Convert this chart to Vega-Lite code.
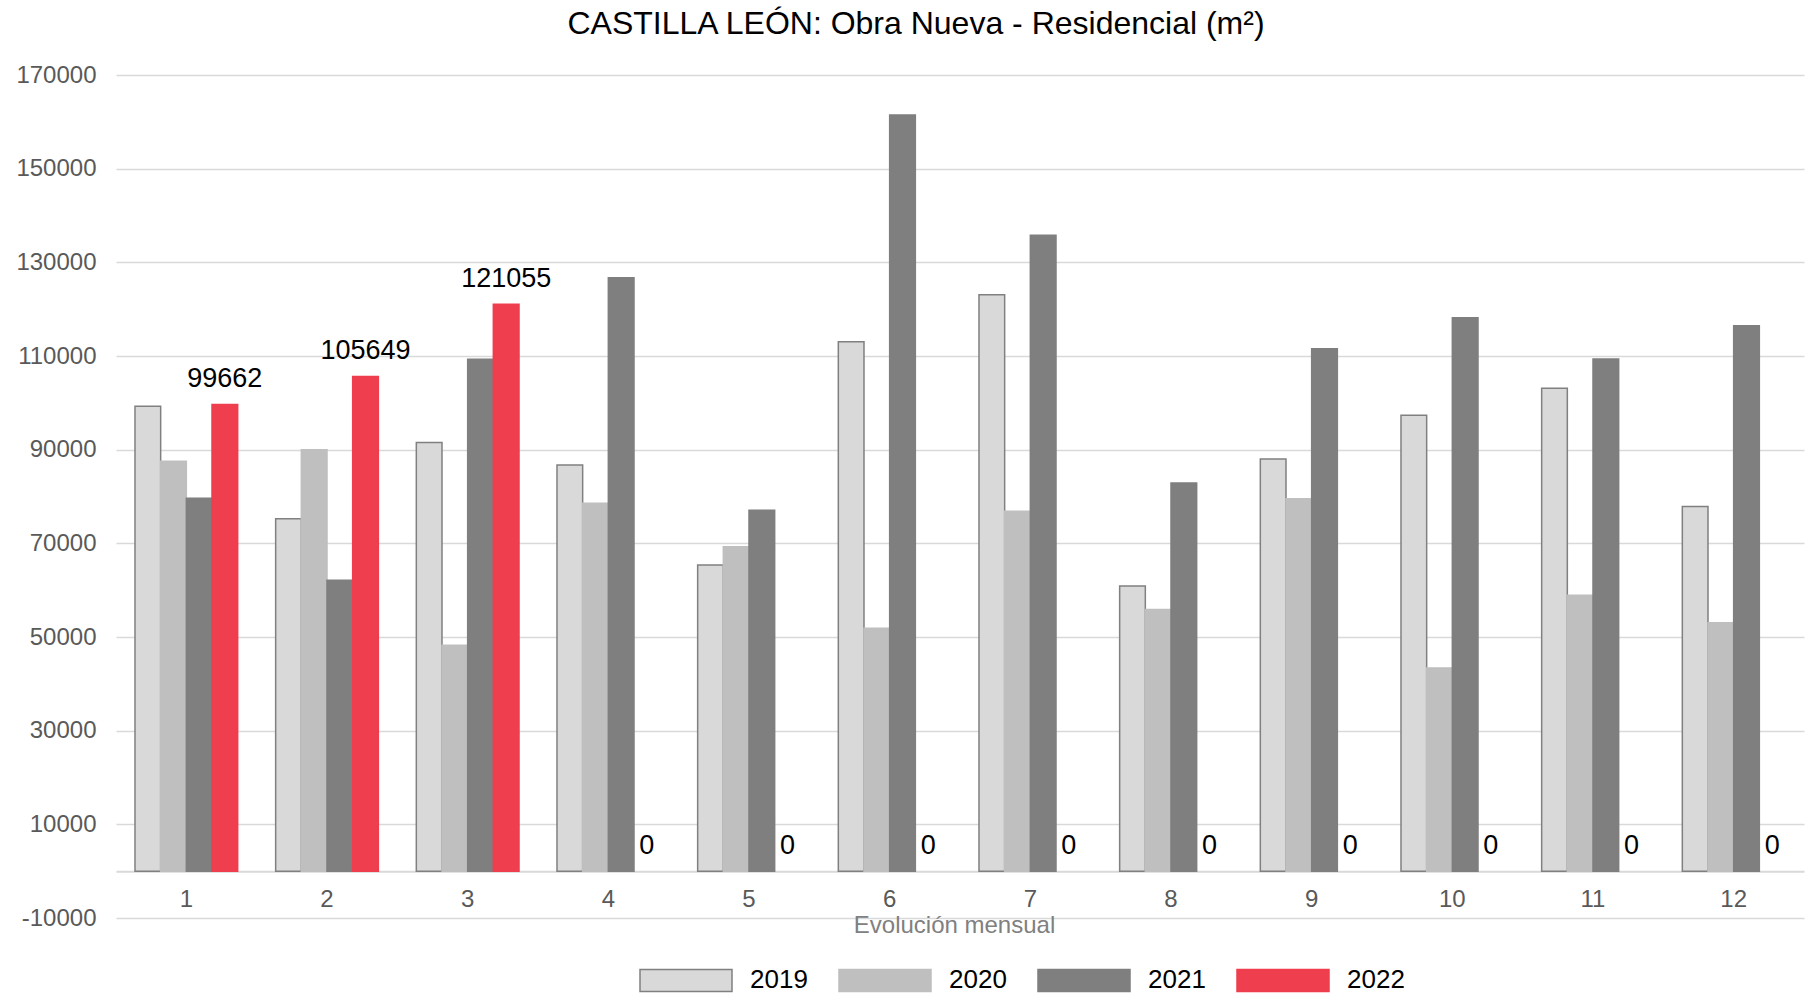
{
  "$schema": "https://vega.github.io/schema/vega-lite/v6.json",
  "width": 1688,
  "height": 843,
  "autosize": {"type": "none"},
  "padding": {"left": 116, "top": 75, "right": 12, "bottom": 77},
  "background": "white",
  "config": {"view": {"stroke": null}, "font": "Liberation Sans"},
  "title": {
    "text": "CASTILLA LEÓN: Obra Nueva - Residencial (m²)",
    "font": "Liberation Sans",
    "fontSize": 32,
    "fontWeight": "normal",
    "color": "#000000",
    "anchor": "middle",
    "frame": "group",
    "dx": -44,
    "offset": 22
  },
  "data": {
    "values": [
      {"mes": 1, "year": "2019", "value": 99270},
      {"mes": 1, "year": "2020", "value": 87520},
      {"mes": 1, "year": "2021", "value": 79620},
      {"mes": 1, "year": "2022", "value": 99662},
      {"mes": 2, "year": "2019", "value": 75230},
      {"mes": 2, "year": "2020", "value": 90000},
      {"mes": 2, "year": "2021", "value": 62110},
      {"mes": 2, "year": "2022", "value": 105649},
      {"mes": 3, "year": "2019", "value": 91510},
      {"mes": 3, "year": "2020", "value": 48230},
      {"mes": 3, "year": "2021", "value": 109290},
      {"mes": 3, "year": "2022", "value": 121055},
      {"mes": 4, "year": "2019", "value": 86700},
      {"mes": 4, "year": "2020", "value": 78540},
      {"mes": 4, "year": "2021", "value": 126700},
      {"mes": 4, "year": "2022", "value": 0},
      {"mes": 5, "year": "2019", "value": 65370},
      {"mes": 5, "year": "2020", "value": 69290},
      {"mes": 5, "year": "2021", "value": 77050},
      {"mes": 5, "year": "2022", "value": 0},
      {"mes": 6, "year": "2019", "value": 113050},
      {"mes": 6, "year": "2020", "value": 51850},
      {"mes": 6, "year": "2021", "value": 161450},
      {"mes": 6, "year": "2022", "value": 0},
      {"mes": 7, "year": "2019", "value": 123080},
      {"mes": 7, "year": "2020", "value": 76870},
      {"mes": 7, "year": "2021", "value": 135780},
      {"mes": 7, "year": "2022", "value": 0},
      {"mes": 8, "year": "2019", "value": 60900},
      {"mes": 8, "year": "2020", "value": 55890},
      {"mes": 8, "year": "2021", "value": 82860},
      {"mes": 8, "year": "2022", "value": 0},
      {"mes": 9, "year": "2019", "value": 88000},
      {"mes": 9, "year": "2020", "value": 79500},
      {"mes": 9, "year": "2021", "value": 111560},
      {"mes": 9, "year": "2022", "value": 0},
      {"mes": 10, "year": "2019", "value": 97370},
      {"mes": 10, "year": "2020", "value": 43370},
      {"mes": 10, "year": "2021", "value": 118190},
      {"mes": 10, "year": "2022", "value": 0},
      {"mes": 11, "year": "2019", "value": 103120},
      {"mes": 11, "year": "2020", "value": 58940},
      {"mes": 11, "year": "2021", "value": 109340},
      {"mes": 11, "year": "2022", "value": 0},
      {"mes": 12, "year": "2019", "value": 77880},
      {"mes": 12, "year": "2020", "value": 53030},
      {"mes": 12, "year": "2021", "value": 116470},
      {"mes": 12, "year": "2022", "value": 0}
    ]
  },
  "encoding": {
    "x": {
      "field": "mes",
      "type": "ordinal",
      "scale": {"paddingInner": 0.27, "paddingOuter": 0.135},
      "axis": {
        "orient": "bottom",
        "offset": -46.8,
        "labelAngle": 0,
        "labelFont": "Liberation Sans",
        "labelFontSize": 24,
        "labelColor": "#595959",
        "labelPadding": 16,
        "ticks": false,
        "domain": true,
        "domainColor": "#d9d9d9",
        "domainWidth": 2,
        "grid": false,
        "title": "Evolución mensual",
        "titleX": 838,
        "titleFont": "Liberation Sans",
        "titleFontSize": 24,
        "titleFontWeight": "normal",
        "titleColor": "#808080",
        "titlePadding": 2
      }
    },
    "xOffset": {"field": "year", "type": "nominal", "scale": {"domain": ["2019", "2020", "2021", "2022"]}},
    "y": {
      "field": "value",
      "type": "quantitative",
      "scale": {"domain": [-10000, 170000], "nice": false, "zero": false},
      "axis": {
        "values": [-10000, 10000, 30000, 50000, 70000, 90000, 110000, 130000, 150000, 170000],
        "labelExpr": "'' + datum.value",
        "grid": true,
        "gridColor": "#d9d9d9",
        "gridWidth": 1.5,
        "domain": false,
        "ticks": false,
        "labelFont": "Liberation Sans",
        "labelFontSize": 24,
        "labelColor": "#595959",
        "labelPadding": 20,
        "title": null
      }
    }
  },
  "layer": [
    {
      "transform": [{"filter": "datum.value != 0"}],
      "mark": {"type": "bar", "strokeWidth": 1.5},
      "encoding": {
        "fill": {
          "field": "year",
          "type": "nominal",
          "scale": {"domain": ["2019", "2020", "2021", "2022"], "range": ["#d9d9d9", "#bfbfbf", "#7f7f7f", "#ef3e4e"]},
          "legend": {
            "orient": "none",
            "legendX": 523,
            "legendY": 858,
            "direction": "horizontal",
            "title": null,
            "symbolType": "M-1,-0.24H1V0.24H-1Z",
            "symbolSize": 8464,
            "symbolStrokeWidth": 1.5,
            "labelFont": "Liberation Sans",
            "labelFontSize": 26,
            "labelColor": "#000000",
            "labelOffset": 17,
            "columnPadding": 28
          }
        },
        "stroke": {
          "field": "year",
          "type": "nominal",
          "scale": {"domain": ["2019", "2020", "2021", "2022"], "range": ["#808080", "#bfbfbf", "#7f7f7f", "#ef3e4e"]},
          "legend": {
            "orient": "none",
            "legendX": 523,
            "legendY": 858,
            "direction": "horizontal",
            "title": null,
            "symbolType": "M-1,-0.24H1V0.24H-1Z",
            "symbolSize": 8464,
            "symbolStrokeWidth": 1.5,
            "labelFont": "Liberation Sans",
            "labelFontSize": 26,
            "labelColor": "#000000",
            "labelOffset": 17,
            "columnPadding": 28
          }
        }
      }
    },
    {
      "transform": [{"filter": "datum.year == '2022'"}],
      "mark": {"type": "text", "font": "Liberation Sans", "fontSize": 27, "color": "#000000", "baseline": "alphabetic", "dy": -17},
      "encoding": {
        "text": {"field": "value", "type": "quantitative", "format": "d"}
      }
    }
  ]
}
